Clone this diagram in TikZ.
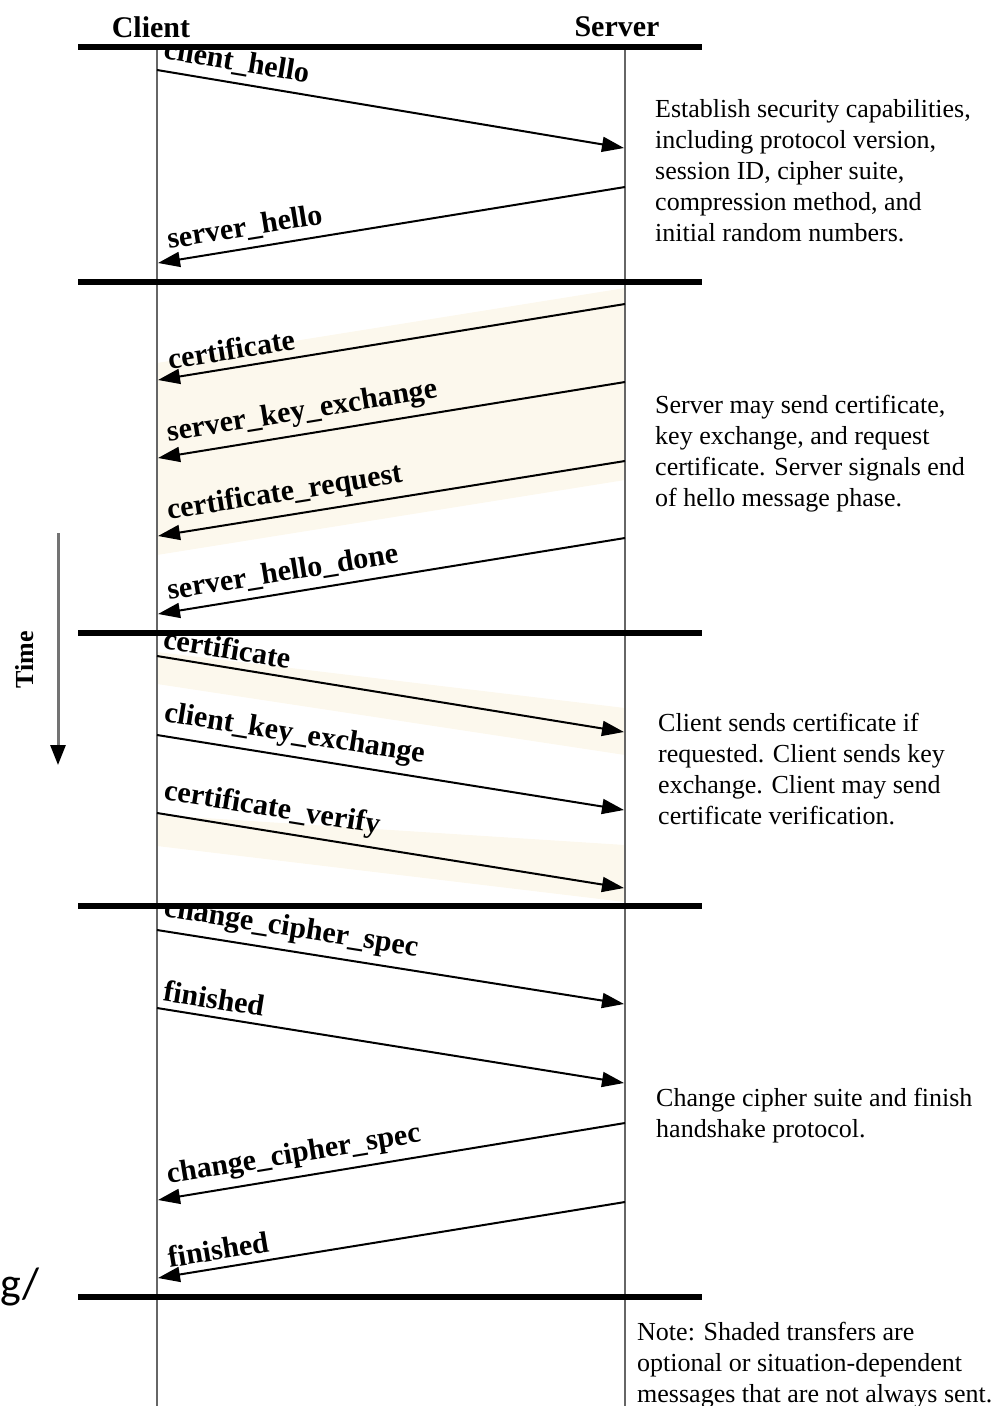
\documentclass[tikz,border=0pt]{standalone}
\usepackage{fontspec}
\setmainfont{Liberation Serif}
\newfontfamily\slidefont{Carlito}
\usetikzlibrary{arrows.meta}

\definecolor{cream}{RGB}{252,248,237}

\tikzset{
  phase/.style={line width=6pt},
  life/.style={line width=2pt, black!60},
  msg/.style={line width=2pt, -{Triangle[length=22pt,width=15pt]}},
  lbl/.style={font=\fontsize{30}{30}\selectfont\bfseries, sloped, anchor=south west, inner ysep=7pt},
  fwd/.style={lbl, pos=0, inner xsep=3pt},
  bwd/.style={lbl, pos=1, inner xsep=12pt},
  note/.style={font=\fontsize{26}{31}\selectfont, align=left, anchor=north west, inner sep=0pt},
  optional/.style={fill=cream}
}

\begin{document}
\begin{tikzpicture}[x=1pt, y=-1pt]
  \useasboundingbox (0,0) rectangle (996,1406);

  % Lifelines
  \coordinate (C0) at (157,47);
  \coordinate (C1) at (157,1406);
  \coordinate (S0) at (625,47);
  \coordinate (S1) at (625,1406);

  % Headers
  \node (client) at (151,27) {\fontsize{30}{30}\selectfont\bfseries Client};
  \node (server) at (617,27) {\fontsize{30}{30}\selectfont\bfseries Server};

  % Shaded transfers (optional messages)
  \fill[optional] (625,288) -- (625,480) -- (157,555) -- (157,363) -- cycle;
  \fill[optional] (157,652) -- (625,708) -- (625,755) -- (157,684) -- cycle;
  \fill[optional] (157,815) -- (625,845) -- (625,902) -- (157,846) -- cycle;

  \draw[life] (C0) -- (C1);
  \draw[life] (S0) -- (S1);

  % Phase 1: hello
  \begin{scope}
    \clip (78,50) rectangle (702,279);
    \coordinate (c1) at (157,70);   \coordinate (s1) at (624,148);
    \coordinate (s2) at (625,187);  \coordinate (c2) at (158,263);
    \draw[msg] (c1) -- (s1) node[fwd] (m1) {client\_hello};
    \draw[msg] (s2) -- (c2) node[bwd] (m2) {server\_hello};
  \end{scope}

  % Phase 2: server messages
  \begin{scope}
    \clip (78,285) rectangle (702,630);
    \coordinate (s3) at (625,304);  \coordinate (c3) at (158,380);
    \coordinate (s4) at (625,382);  \coordinate (c4) at (158,458);
    \coordinate (s5) at (625,461);  \coordinate (c5) at (158,536);
    \coordinate (s6) at (625,538);  \coordinate (c6) at (158,614);
    \draw[msg] (s3) -- (c3) node[bwd] (m3) {certificate};
    \draw[msg] (s4) -- (c4) node[bwd] (m4) {server\_key\_exchange};
    \draw[msg] (s5) -- (c5) node[bwd] (m5) {certificate\_request};
    \draw[msg] (s6) -- (c6) node[bwd] (m6) {server\_hello\_done};
  \end{scope}

  % Phase 3: client messages
  \begin{scope}
    \clip (78,636) rectangle (702,903);
    \coordinate (c7) at (157,656);  \coordinate (s7) at (624,732);
    \coordinate (c8) at (157,735);  \coordinate (s8) at (624,810);
    \coordinate (c9) at (157,813);  \coordinate (s9) at (624,888);
    \draw[msg] (c7) -- (s7) node[fwd] (m7) {certificate};
    \draw[msg] (c8) -- (s8) node[fwd] (m8) {client\_key\_exchange};
    \draw[msg] (c9) -- (s9) node[fwd] (m9) {certificate\_verify};
  \end{scope}

  % Phase 4: finish
  \begin{scope}
    \clip (78,909) rectangle (702,1294);
    \coordinate (c10) at (157,930);  \coordinate (s10) at (624,1004);
    \coordinate (c11) at (157,1008); \coordinate (s11) at (624,1083);
    \coordinate (s12) at (625,1123); \coordinate (c12) at (158,1200);
    \coordinate (s13) at (625,1202); \coordinate (c13) at (158,1278);
    \draw[msg] (c10) -- (s10) node[fwd] (m10) {change\_cipher\_spec};
    \draw[msg] (c11) -- (s11) node[fwd] (m11) {finished};
    \draw[msg] (s12) -- (c12) node[bwd] (m12) {change\_cipher\_spec};
    \draw[msg] (s13) -- (c13) node[bwd] (m13) {finished};
  \end{scope}

  % Phase separators
  \foreach \y in {47,282,633,906,1297}
    \draw[phase] (78,\y) -- (702,\y);

  % Time axis
  \coordinate (T0) at (58,533);
  \coordinate (T1) at (58,765);
  \draw[line width=3pt, black!55, -{Triangle[length=20pt,width=15pt,black]}] (T0) -- (T1);
  \node[rotate=90] (time) at (25,660) {\fontsize{26}{26}\selectfont\bfseries Time};

  % Phase descriptions
  \node[note] (d1) at (655,99) {Establish security capabilities,\\including protocol version,\\session ID, cipher suite,\\compression method, and\\initial random numbers.};
  \node[note] (d2) at (655,395) {Server may send certificate,\\key exchange, and request\\certificate. Server signals end\\of hello message phase.};
  \node[note] (d3) at (658,713) {Client sends certificate if\\requested. Client sends key\\exchange. Client may send\\certificate verification.};
  \node[note] (d4) at (656,1088) {Change cipher suite and finish\\handshake protocol.};
  \node[note] (d5) at (637,1322) {Note: Shaded transfers are\\optional or situation-dependent\\messages that are not always sent.};

  % stray text at left edge
  \node[anchor=base west, inner sep=0pt] (g) at (0,1298) {\slidefont\fontsize{44}{44}\selectfont g/};
\end{tikzpicture}
\end{document}
